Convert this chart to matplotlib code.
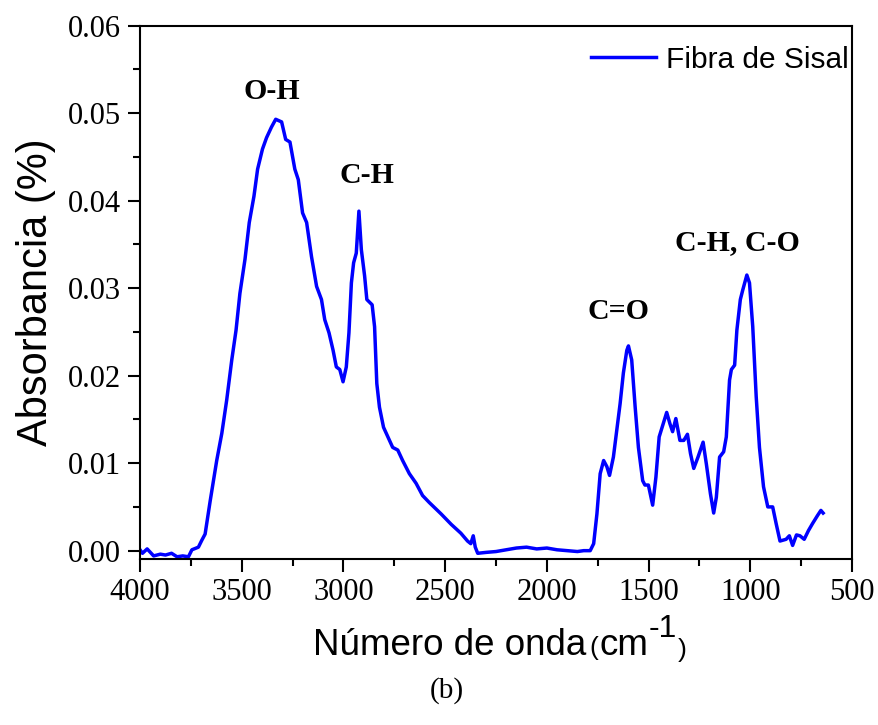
import matplotlib
matplotlib.use("Agg")
import matplotlib.pyplot as plt
from matplotlib.ticker import MultipleLocator, FormatStrFormatter

wavenumber = [4000, 3988, 3965, 3933, 3900, 3875, 3845, 3818, 3790, 3762, 3745, 3713, 3696, 3680,
              3655, 3623, 3598, 3574, 3549, 3528, 3509, 3484, 3463, 3440, 3422, 3398, 3378,
              3354, 3333, 3304, 3284, 3263, 3239, 3222, 3201, 3181, 3157, 3132, 3108, 3092,
              3071, 3051, 3035, 3018, 3002, 2986, 2973, 2961, 2950, 2937, 2924, 2912, 2896,
              2885, 2859, 2847, 2836, 2823, 2803, 2774, 2758, 2733, 2709, 2676, 2643, 2611,
              2578, 2520, 2470, 2423, 2390, 2374, 2362, 2352, 2340, 2300, 2250, 2200, 2150,
              2100, 2050, 2000, 1950, 1900, 1850, 1819, 1787, 1770, 1754, 1738, 1721, 1705,
              1692, 1673, 1656, 1640, 1624, 1607, 1599, 1583, 1566, 1550, 1529, 1518, 1501,
              1480, 1464, 1448, 1428, 1411, 1395, 1382, 1366, 1346, 1327, 1309, 1294, 1278,
              1257, 1232, 1216, 1196, 1180, 1167, 1151, 1131, 1118, 1102, 1093, 1077, 1066,
              1049, 1037, 1017, 1004, 988, 971, 955, 935, 914, 890, 873, 854, 824, 808, 792,
              773, 756, 735, 714, 694, 670, 653, 642]
absorbance = [0.0001, -0.0003, 0.0002, -0.0006, -0.0004, -0.0005, -0.0003, -0.0007, -0.0006,
              -0.0007, 0.0001, 0.0004, 0.0012, 0.0019, 0.0057, 0.0103, 0.0134, 0.0172, 0.0218,
              0.0252, 0.0294, 0.0333, 0.0375, 0.0405, 0.0436, 0.0459, 0.0472, 0.0484, 0.0493,
              0.0490, 0.0470, 0.0467, 0.0436, 0.0424, 0.0386, 0.0375, 0.0336, 0.0302, 0.0287,
              0.0264, 0.0249, 0.0229, 0.0210, 0.0207, 0.0193, 0.0210, 0.0249, 0.0306, 0.0329,
              0.0340, 0.0388, 0.0344, 0.0314, 0.0287, 0.0281, 0.0256, 0.0191, 0.0164, 0.0141,
              0.0126, 0.0118, 0.0115, 0.0103, 0.0088, 0.0077, 0.0063, 0.0055, 0.0042, 0.0030,
              0.0020, 0.0011, 0.0008, 0.0017, 0.0004, -0.0003, -0.0002, -0.0001, 0.0001, 0.0003,
              0.0004, 0.0002, 0.0003, 0.0001, 0.0, -0.0001, 0.0, 0.0, 0.0008, 0.0042, 0.0088,
              0.0103, 0.0096, 0.0086, 0.0107, 0.0138, 0.0168, 0.0203, 0.0229, 0.0234, 0.0218,
              0.0164, 0.0118, 0.0080, 0.0075, 0.0075, 0.0052, 0.0084, 0.0130, 0.0145, 0.0158,
              0.0145, 0.0136, 0.0151, 0.0126, 0.0126, 0.0133, 0.0111, 0.0094, 0.0107, 0.0124,
              0.0099, 0.0065, 0.0043, 0.0061, 0.0107, 0.0113, 0.0130, 0.0195, 0.0207, 0.0212,
              0.0252, 0.0287, 0.0298, 0.0315, 0.0306, 0.0256, 0.0176, 0.0118, 0.0073, 0.0050,
              0.0050, 0.0031, 0.0011, 0.0013, 0.0017, 0.0006, 0.0018, 0.0017, 0.0013, 0.0023,
              0.0031, 0.0040, 0.0046, 0.0043]

series_label = "Fibra de Sisal"
peak_labels = ["O-H", "C-H", "C=O", "C-H, C-O"]
peak_x = [3352, 2887, 1650, 1063]
peak_y = [0.0525, 0.0429, 0.0273, 0.0352]

SANS = 'Liberation Sans'
SERIF = 'Liberation Serif'

fig = plt.figure(figsize=(8.79, 7.25), dpi=100)
ax = fig.add_axes([0.1593, 0.2290, 0.8100, 0.7356])

ax.plot(wavenumber, absorbance, color='#0000ff', lw=2.5, label=series_label)

ax.set_xlim(4000, 500)
ax.set_ylim(-0.00095, 0.06)
ax.xaxis.set_major_locator(MultipleLocator(500))
ax.xaxis.set_minor_locator(MultipleLocator(250))
ax.yaxis.set_major_locator(MultipleLocator(0.01))
ax.yaxis.set_minor_locator(MultipleLocator(0.005))
ax.yaxis.set_major_formatter(FormatStrFormatter('%.2f'))

for s in ax.spines.values():
    s.set_linewidth(1.5)
ax.tick_params(which='major', direction='out', length=9, width=1.5,
               labelsize=22, top=False, right=False, pad=5)
ax.tick_params(which='minor', direction='out', length=5, width=1.5, top=False, right=False)
for lab in ax.get_xticklabels() + ax.get_yticklabels():
    lab.set_family(SERIF)

ax.set_ylabel("Absorbancia (%)", family=SANS, fontsize=30, labelpad=8)

# x label built from pieces (small parentheses, large superscript)
base_y = 1 - 655 / 725
t0 = fig.text(313 / 879, base_y, "Número de onda", family=SANS, fontsize=26.5,
              ha='left', va='baseline')
t1 = ax.annotate("(", xy=(1, base_y), xycoords=(t0, 'figure fraction'),
                 xytext=(2.5, 0), textcoords='offset points', family=SANS, fontsize=19,
                 ha='left', va='baseline', annotation_clip=False)
t2 = ax.annotate("cm", xy=(1, base_y), xycoords=(t1, 'figure fraction'),
                 xytext=(0.5, 0), textcoords='offset points', family=SANS, fontsize=26.5,
                 ha='left', va='baseline', annotation_clip=False)
t3 = ax.annotate("-1", xy=(1, base_y), xycoords=(t2, 'figure fraction'),
                 xytext=(0.5, 13), textcoords='offset points', family=SANS, fontsize=23,
                 ha='left', va='baseline', annotation_clip=False)
t4 = ax.annotate(")", xy=(1, base_y), xycoords=(t3, 'figure fraction'),
                 xytext=(0.5, -1.5), textcoords='offset points', family=SANS, fontsize=19,
                 ha='left', va='baseline', annotation_clip=False)

for lab, x, y in zip(peak_labels, peak_x, peak_y):
    ax.text(x, y, lab, family=SERIF, fontweight='bold', fontsize=21.5,
            ha='center', va='center')

ax.legend(loc='upper right', bbox_to_anchor=(1.0, 0.968), frameon=False,
          prop={'family': SANS, 'size': 21.5}, handlelength=2.2, handletextpad=0.33,
          borderaxespad=0.0, borderpad=0.1)

fig.text(0.508, 0.048, "(b)", family=SERIF, fontsize=21, ha='center', va='center')

fig.savefig("out.png", dpi=100)
